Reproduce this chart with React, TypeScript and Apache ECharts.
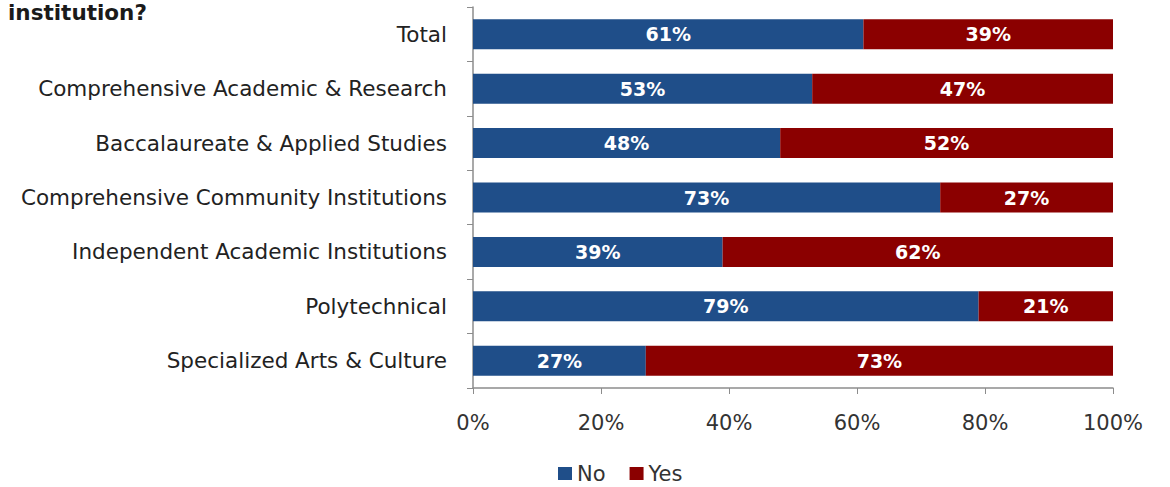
import React, { useEffect, useRef } from "react";
import * as echarts from "echarts";

const categories = [
  "Total",
  "Comprehensive Academic & Research",
  "Baccalaureate & Applied Studies",
  "Comprehensive Community Institutions",
  "Independent Academic Institutions",
  "Polytechnical",
  "Specialized Arts & Culture",
];
const noValues = [61, 53, 48, 73, 39, 79, 27];
const yesValues = [39, 47, 52, 27, 62, 21, 73];
const xTicks = [0, 20, 40, 60, 80, 100];
const seriesNames = ["No", "Yes"];
const titleText = "institution?";

const FONT = "'DejaVu Sans', sans-serif";

export default function App() {
  const ref = useRef<HTMLDivElement>(null);
  useEffect(() => {
    if (!ref.current) return;
    const chart = echarts.init(ref.current, undefined, { renderer: "svg" });
    const labelStyle = {
      show: true,
      position: "inside",
      formatter: "{c}%",
      color: "#ffffff",
      fontWeight: "bold",
      fontSize: 19,
      fontFamily: FONT,
    };
    chart.setOption({
      animation: false,
      backgroundColor: "#ffffff",
      textStyle: { fontFamily: FONT },
      graphic: [
        {
          type: "text",
          left: 8,
          top: 1,
          style: {
            text: titleText,
            fontSize: 21.5,
            fontWeight: "bold",
            fill: "#1a1a1a",
            fontFamily: FONT,
          },
        },
      ],
      legend: {
        data: seriesNames,
        left: 554,
        top: 459,
        padding: 4,
        itemWidth: 14,
        itemHeight: 13,
        itemGap: 24,
        icon: "rect",
        textStyle: { fontSize: 21, color: "#333", fontFamily: FONT },
      },
      grid: { left: 473, right: 57, top: 7, bottom: 99, containLabel: false },
      xAxis: {
        type: "value",
        min: xTicks[0],
        max: xTicks[xTicks.length - 1],
        interval: 20,
        splitLine: { show: false },
        axisLine: { show: true, lineStyle: { color: "#8c8c8c", width: 1.5 } },
        axisTick: { show: true, length: 6, lineStyle: { color: "#8c8c8c" } },
        axisLabel: {
          formatter: "{value}%",
          fontSize: 21,
          color: "#333",
          margin: 24,
          fontFamily: FONT,
        },
      },
      yAxis: {
        type: "category",
        data: categories,
        inverse: true,
        axisLine: { show: true, lineStyle: { color: "#8c8c8c", width: 1.5 } },
        axisTick: { show: true, length: 6, alignWithLabel: false, lineStyle: { color: "#8c8c8c" } },
        axisLabel: {
          fontSize: 21.5,
          color: "#222",
          margin: 26,
          fontFamily: FONT,
        },
      },
      series: [
        {
          name: seriesNames[0],
          type: "bar",
          stack: "total",
          barWidth: 30,
          data: noValues,
          itemStyle: { color: "#1f4e89" },
          label: labelStyle,
        },
        {
          name: seriesNames[1],
          type: "bar",
          stack: "total",
          barWidth: 30,
          data: yesValues,
          itemStyle: { color: "#8b0000" },
          label: labelStyle,
        },
      ],
    });
    return () => chart.dispose();
  }, []);
  return (
    <div
      ref={ref}
      style={{ position: "fixed", left: 0, top: 0, width: 1170, height: 487 }}
    />
  );
}
